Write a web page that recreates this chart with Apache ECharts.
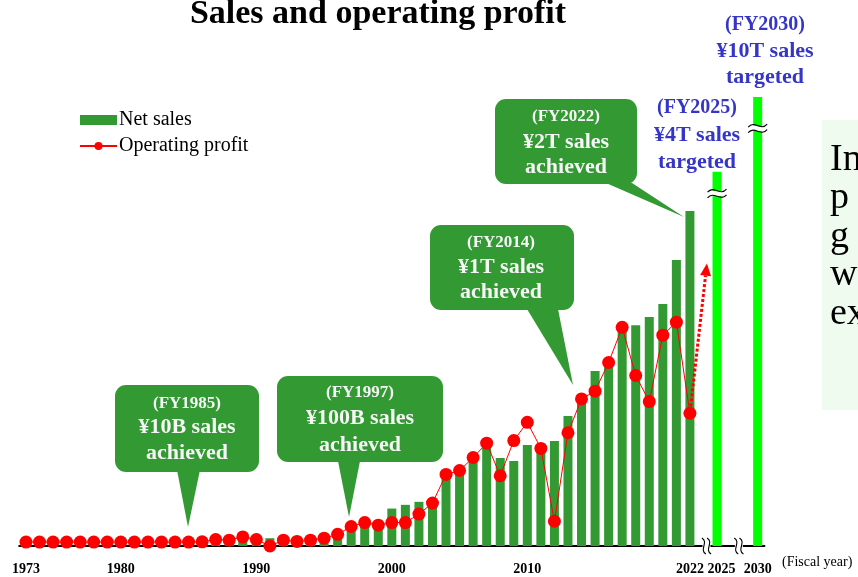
<!DOCTYPE html>
<html>
<head>
<meta charset="utf-8">
<title>Sales and operating profit</title>
<script src="https://cdn.jsdelivr.net/npm/echarts@6/dist/echarts.min.js"></script>
<style>
    html, body { margin: 0; padding: 0; background: #fff; }
    #container { width: 858px; height: 577px; }
</style>
</head>
<body>
<div id="container"></div>
<script>
    // fiscal years 1973 .. 2022
    var years = [];
    for (var y = 1973; y <= 2022; y++) years.push(String(y));

    // x slots: the years, then two cut gaps with the target years
    var categories = years.concat(['gapA', '2025', 'gapB', 'gapC', '2030']);
    var shownLabels = ['1973', '1980', '1990', '2000', '2010', '2022', '2025', '2030'];

    // net sales, billion yen
    var netSales = [0.2, 0.4, 0.6, 1, 1.5, 2, 3, 4, 5, 6, 7, 8.5,
        10, 12, 15, 22, 35, 45, 52, 50, 48, 52, 60, 85,
        105, 140, 150, 250, 275, 295, 310,
        461, 481, 568, 675, 588, 568, 675, 655, 702, 869,
        1000, 1169, 1200, 1490, 1475, 1530, 1617, 1911, 2238];

    // operating profit, billion yen
    var opProfit = [0, 0, 0, 0, 0, 0, 0, 0, 0, 0, 0, 0,
        0, 0.2, 2, 1.5, 4, 2, -3, 1.5, 0.5, 1.5, 3, 6,
        12, 15, 13, 15, 15, 21.5, 30,
        52, 55, 65, 76, 51, 78, 92, 72, 16, 84,
        110, 116, 138, 165, 128, 108, 159, 169, 99];

    // sales targets (billion yen) and the part of their bars that is drawn before the cut
    var targetYears = ['2025', '2030'];
    var targetSales = [4000, 10000];
    var targetBarShown = [2500, 3000];
    var targetBreakAt = [2355, 2790];

    var GREEN = '#339933', LIME = '#00ff00', RED = '#ff0000', BLUE = '#3535c8';
    var SERIF = "'Times New Roman', 'Liberation Serif', serif";

    var salesBars = categories.map(function (c) {
        var i = years.indexOf(c);
        return i >= 0 ? netSales[i] : '-';
    });
    var targetBars = categories.map(function (c) {
        var i = targetYears.indexOf(c);
        return i >= 0 ? targetBarShown[i] : '-';
    });
    var profitLine = categories.map(function (c) {
        var i = years.indexOf(c);
        return i >= 0 ? opProfit[i] : '-';
    });

    var myChart = echarts.init(document.getElementById('container'));

    var option = {
        animation: false,
        backgroundColor: '#fff',
        grid: {left: 19.2, right: 93.55, top: 97, bottom: 31, outerBoundsMode: 'none'},
        legend: {
            orient: 'vertical',
            left: 74,
            top: 105,
            itemWidth: 37,
            itemHeight: 10,
            itemGap: 6,
            textStyle: {color: '#000', fontSize: 20, fontFamily: SERIF, lineHeight: 20, padding: [0, 0, 0, -3]},
            data: [{name: 'Net sales', icon: 'rect'}, {name: 'Operating profit'}]
        },
        xAxis: {
            type: 'category',
            data: categories,
            axisLine: {lineStyle: {color: '#000', width: 2}},
            axisTick: {show: false},
            splitLine: {show: false},
            axisLabel: {
                interval: function (i, v) { return shownLabels.indexOf(v) >= 0; },
                formatter: function (v) { return v === '2025' ? '{r|' + v + '}' : v; },
                rich: {r: {padding: [0, 0, 0, 9], color: '#000', fontSize: 14, fontWeight: 'bold', fontFamily: SERIF}},
                margin: 16,
                color: '#000',
                fontSize: 14,
                fontWeight: 'bold',
                fontFamily: SERIF
            }
        },
        yAxis: [
            {type: 'value', min: 0, max: 3000, show: false},
            {type: 'value', min: -3, max: 342, show: false}
        ],
        series: [{
            name: 'Net sales',
            type: 'bar',
            stack: 'sales',
            barWidth: 9,
            itemStyle: {color: GREEN},
            data: salesBars
        }, {
            name: 'Target',
            type: 'bar',
            stack: 'sales',
            barWidth: 9,
            itemStyle: {color: LIME},
            data: targetBars
        }, {
            name: 'Operating profit',
            type: 'line',
            yAxisIndex: 1,
            symbol: 'circle',
            symbolSize: 13,
            showAllSymbol: true,
            clip: false,
            itemStyle: {color: RED},
            lineStyle: {color: RED, width: 1},
            data: profitLine
        }]
    };
    myChart.setOption(option);

    function px(cat, val, axis) {
        return myChart.convertToPixel({xAxisIndex: 0, yAxisIndex: axis || 0}, [cat, val]);
    }

    var g = [];

    function txt(x, y, s, size, color, weight, align) {
        g.push({
            type: 'text', z: 100,
            style: {
                x: x, y: y, text: s, fill: color, fontSize: size, fontWeight: weight || 'normal',
                fontFamily: SERIF, align: align || 'center', verticalAlign: 'middle'
            }
        });
    }

    // title
    txt(378, 14.5, 'Sales and operating profit', 34, '#000', 'bold');

    // green speech bubbles
    var bubbles = [
        {box: [115, 385, 144, 87], tail: [[177, 470], [200, 470], [188, 527]], tx: 187, ty: [404, 427, 453], lines: ['(FY1985)', '¥10B sales', 'achieved']},
        {box: [277, 376, 166, 86], tail: [[338, 461], [360, 461], [349, 517]], tx: 360, ty: [393, 418, 445], lines: ['(FY1997)', '¥100B sales', 'achieved']},
        {box: [430, 225, 144, 85], tail: [[527, 309], [558, 309], [573, 385]], tx: 501, ty: [243, 267, 292], lines: ['(FY2014)', '¥1T sales', 'achieved']},
        {box: [495, 99, 142, 85], tail: [[606, 183], [632, 183], [684, 217]], tx: 566, ty: [117, 142, 167], lines: ['(FY2022)', '¥2T sales', 'achieved']}
    ];
    bubbles.forEach(function (b) {
        g.push({type: 'rect', z: 90, shape: {x: b.box[0], y: b.box[1], width: b.box[2], height: b.box[3], r: 11}, style: {fill: GREEN}});
        g.push({type: 'polygon', z: 90, shape: {points: b.tail}, style: {fill: GREEN}});
        txt(b.tx, b.ty[0], b.lines[0], 17, '#f6f6f6', 'bold');
        txt(b.tx, b.ty[1], b.lines[1], 22, '#f6f6f6', 'bold');
        txt(b.tx, b.ty[2], b.lines[2], 22, '#f6f6f6', 'bold');
    });

    // blue target labels
    txt(697, 108, '(FY2025)', 20, BLUE, 'bold');
    txt(697, 135, '¥' + targetSales[0] / 1000 + 'T sales', 22, BLUE, 'bold');
    txt(697, 162, 'targeted', 22, BLUE, 'bold');
    txt(765, 25, '(FY2030)', 20, BLUE, 'bold');
    txt(765, 51, '¥' + targetSales[1] / 1000 + 'T sales', 22, BLUE, 'bold');
    txt(765, 77, 'targeted', 22, BLUE, 'bold');

    // cut marks on the target bars
    targetYears.forEach(function (c, i) {
        var p = px(c, targetBreakAt[i]);
        g.push({type: 'rect', z: 95, shape: {x: p[0] - 6, y: p[1] - 2.5, width: 12, height: 5}, style: {fill: '#fff'}});
        [-2.8, 2.8].forEach(function (d) {
            g.push({
                type: 'bezierCurve', z: 96,
                shape: {x1: p[0] - 9.5, y1: p[1] + d + 1.5, cpx1: p[0] - 3, cpy1: p[1] + d - 6, cpx2: p[0] + 3, cpy2: p[1] + d + 6, x2: p[0] + 9.5, y2: p[1] + d - 1.5},
                style: {stroke: '#000', lineWidth: 1.1, fill: null}
            });
        });
    });

    // cut marks on the axis
    var a1 = px('gapA', 0), a2 = px('gapB', 0), a3 = px('gapC', 0);
    [a1[0] + 3, (a2[0] + a3[0]) / 2 + 1.5].forEach(function (x) {
        var yb = a1[1];
        g.push({type: 'rect', z: 95, shape: {x: x - 4, y: yb - 3, width: 8, height: 6}, style: {fill: '#fff'}});
        [-2.6, 2.6].forEach(function (d) {
            g.push({
                type: 'bezierCurve', z: 96,
                shape: {x1: x + d - 2, y1: yb - 8, cpx1: x + d + 5, cpy1: yb - 4, cpx2: x + d - 5, cpy2: yb + 4, x2: x + d + 2, y2: yb + 8},
                style: {stroke: '#000', lineWidth: 1.1, fill: null}
            });
        });
    });

    // dotted arrow: operating profit heading up after FY2022
    var s = px('2022', opProfit[opProfit.length - 1], 1);
    var tip = [s[0] + 17, px('2022', 214, 1)[1]];
    var dx = tip[0] - s[0], dy = tip[1] - s[1], len = Math.sqrt(dx * dx + dy * dy);
    var ux = dx / len, uy = dy / len;
    var bc = [tip[0] - 12 * ux, tip[1] - 12 * uy];
    g.push({
        type: 'line', z: 100,
        shape: {x1: s[0] + 7 * ux, y1: s[1] + 7 * uy, x2: bc[0], y2: bc[1]},
        style: {stroke: RED, lineWidth: 3, lineDash: [3, 2]}
    });
    g.push({
        type: 'polygon', z: 100,
        shape: {points: [tip, [bc[0] - 5.5 * uy, bc[1] + 5.5 * ux], [bc[0] + 5.5 * uy, bc[1] - 5.5 * ux]]},
        style: {fill: RED}
    });

    // axis unit
    txt(782, 562, '(Fiscal year)', 14, '#000', 'normal', 'left');

    // side text panel, cut off at the right edge
    g.push({type: 'rect', z: 80, shape: {x: 822, y: 120, width: 60, height: 290}, style: {fill: '#effbef'}});
    ['In', 'p', 'g', 'w', 'ex'].forEach(function (w, i) {
        txt(830, 160 + i * 38.5, w, 38, '#000', 'normal', 'left');
    });

    myChart.setOption({graphic: g});
</script>
</body>
</html>
